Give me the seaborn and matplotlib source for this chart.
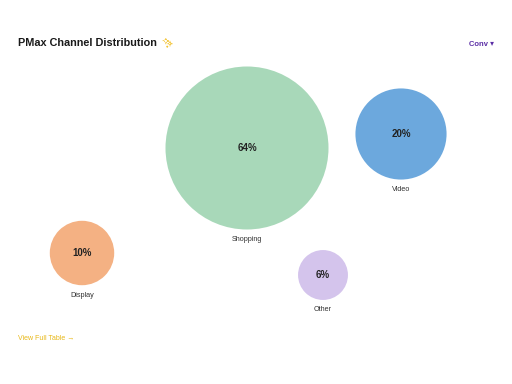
import pandas as pd
import matplotlib.pyplot as plt
import seaborn as sns
from matplotlib import font_manager
from fontTools.ttLib import TTFont

# Channel share data
channels = ["Shopping", "Video", "Display", "Other"]
shares = [64, 20, 10, 6]
colors = ["#a8d8b9", "#6ca8dd", "#f4b183", "#d4c4ec"]

# bubble layout (pixel space of a 512x384 canvas)
pos_x = [247, 401, 82, 323]
pos_y = [148, 134, 253, 275]

df = pd.DataFrame({"channel": channels, "share": shares, "x": pos_x, "y": pos_y})


def family_with(char):
    # look for any installed font that has this glyph
    for f in font_manager.fontManager.ttflist:
        try:
            font = TTFont(f.fname, fontNumber=0, lazy=True)
            if ord(char) in font.getBestCmap():
                return f.name
        except Exception:
            continue
    return None


sns.set_style("white")
plt.rcParams["font.family"] = ["Liberation Sans", "DejaVu Sans"]

fig = plt.figure(figsize=(5.12, 3.84), dpi=100)
ax = fig.add_axes([0, 0, 1, 1])

# area proportional to share; biggest bubble ~163px across
k = (163 * 0.72) ** 2 / max(shares)
sns.scatterplot(data=df, x="x", y="y", size="share", hue="channel",
                palette=dict(zip(channels, colors)),
                sizes=(k * min(shares), k * max(shares)),
                size_norm=(min(shares), max(shares)),
                linewidth=0, alpha=1, legend=False, ax=ax)

ax.set_xlim(0, 512)
ax.set_ylim(384, 0)
ax.axis("off")

for _, row in df.iterrows():
    r = 81.5 * (row["share"] / max(shares)) ** 0.5
    ax.text(row["x"], row["y"], f"{row['share']}%", ha="center", va="center",
            fontsize=7, fontweight="bold", color="#222222")
    ax.text(row["x"], row["y"] + r + 10, row["channel"], ha="center", va="center",
            fontsize=5.2, color="#333333")

ax.text(18, 43, "PMax Channel Distribution", fontsize=7.8, fontweight="bold",
        color="#1a1a1a", ha="left", va="center")

sparkle_font = family_with("\u2728")
if sparkle_font:
    ax.text(161, 43, "\u2728", fontsize=8, color="#f2c230", ha="left", va="center",
            family=[sparkle_font, "DejaVu Sans"])
else:
    # no font has the sparkles glyph: draw it as little stars
    ax.plot([167], [44], marker=(4, 1, 0), markersize=7, color="#f2c230", lw=0)
    ax.plot([171], [39], marker=(4, 1, 0), markersize=3.5, color="#f2c230", lw=0)
    ax.plot([163], [48], marker=(4, 1, 0), markersize=3, color="#f2c230", lw=0)

ax.text(494, 44, "Conv \u25be", fontsize=5.5, fontweight="bold", color="#5b2ea6",
        ha="right", va="center")
ax.text(18, 338, "View Full Table \u2192", fontsize=5, color="#e8b818",
        ha="left", va="center")

fig.savefig("out.png", dpi=100)
